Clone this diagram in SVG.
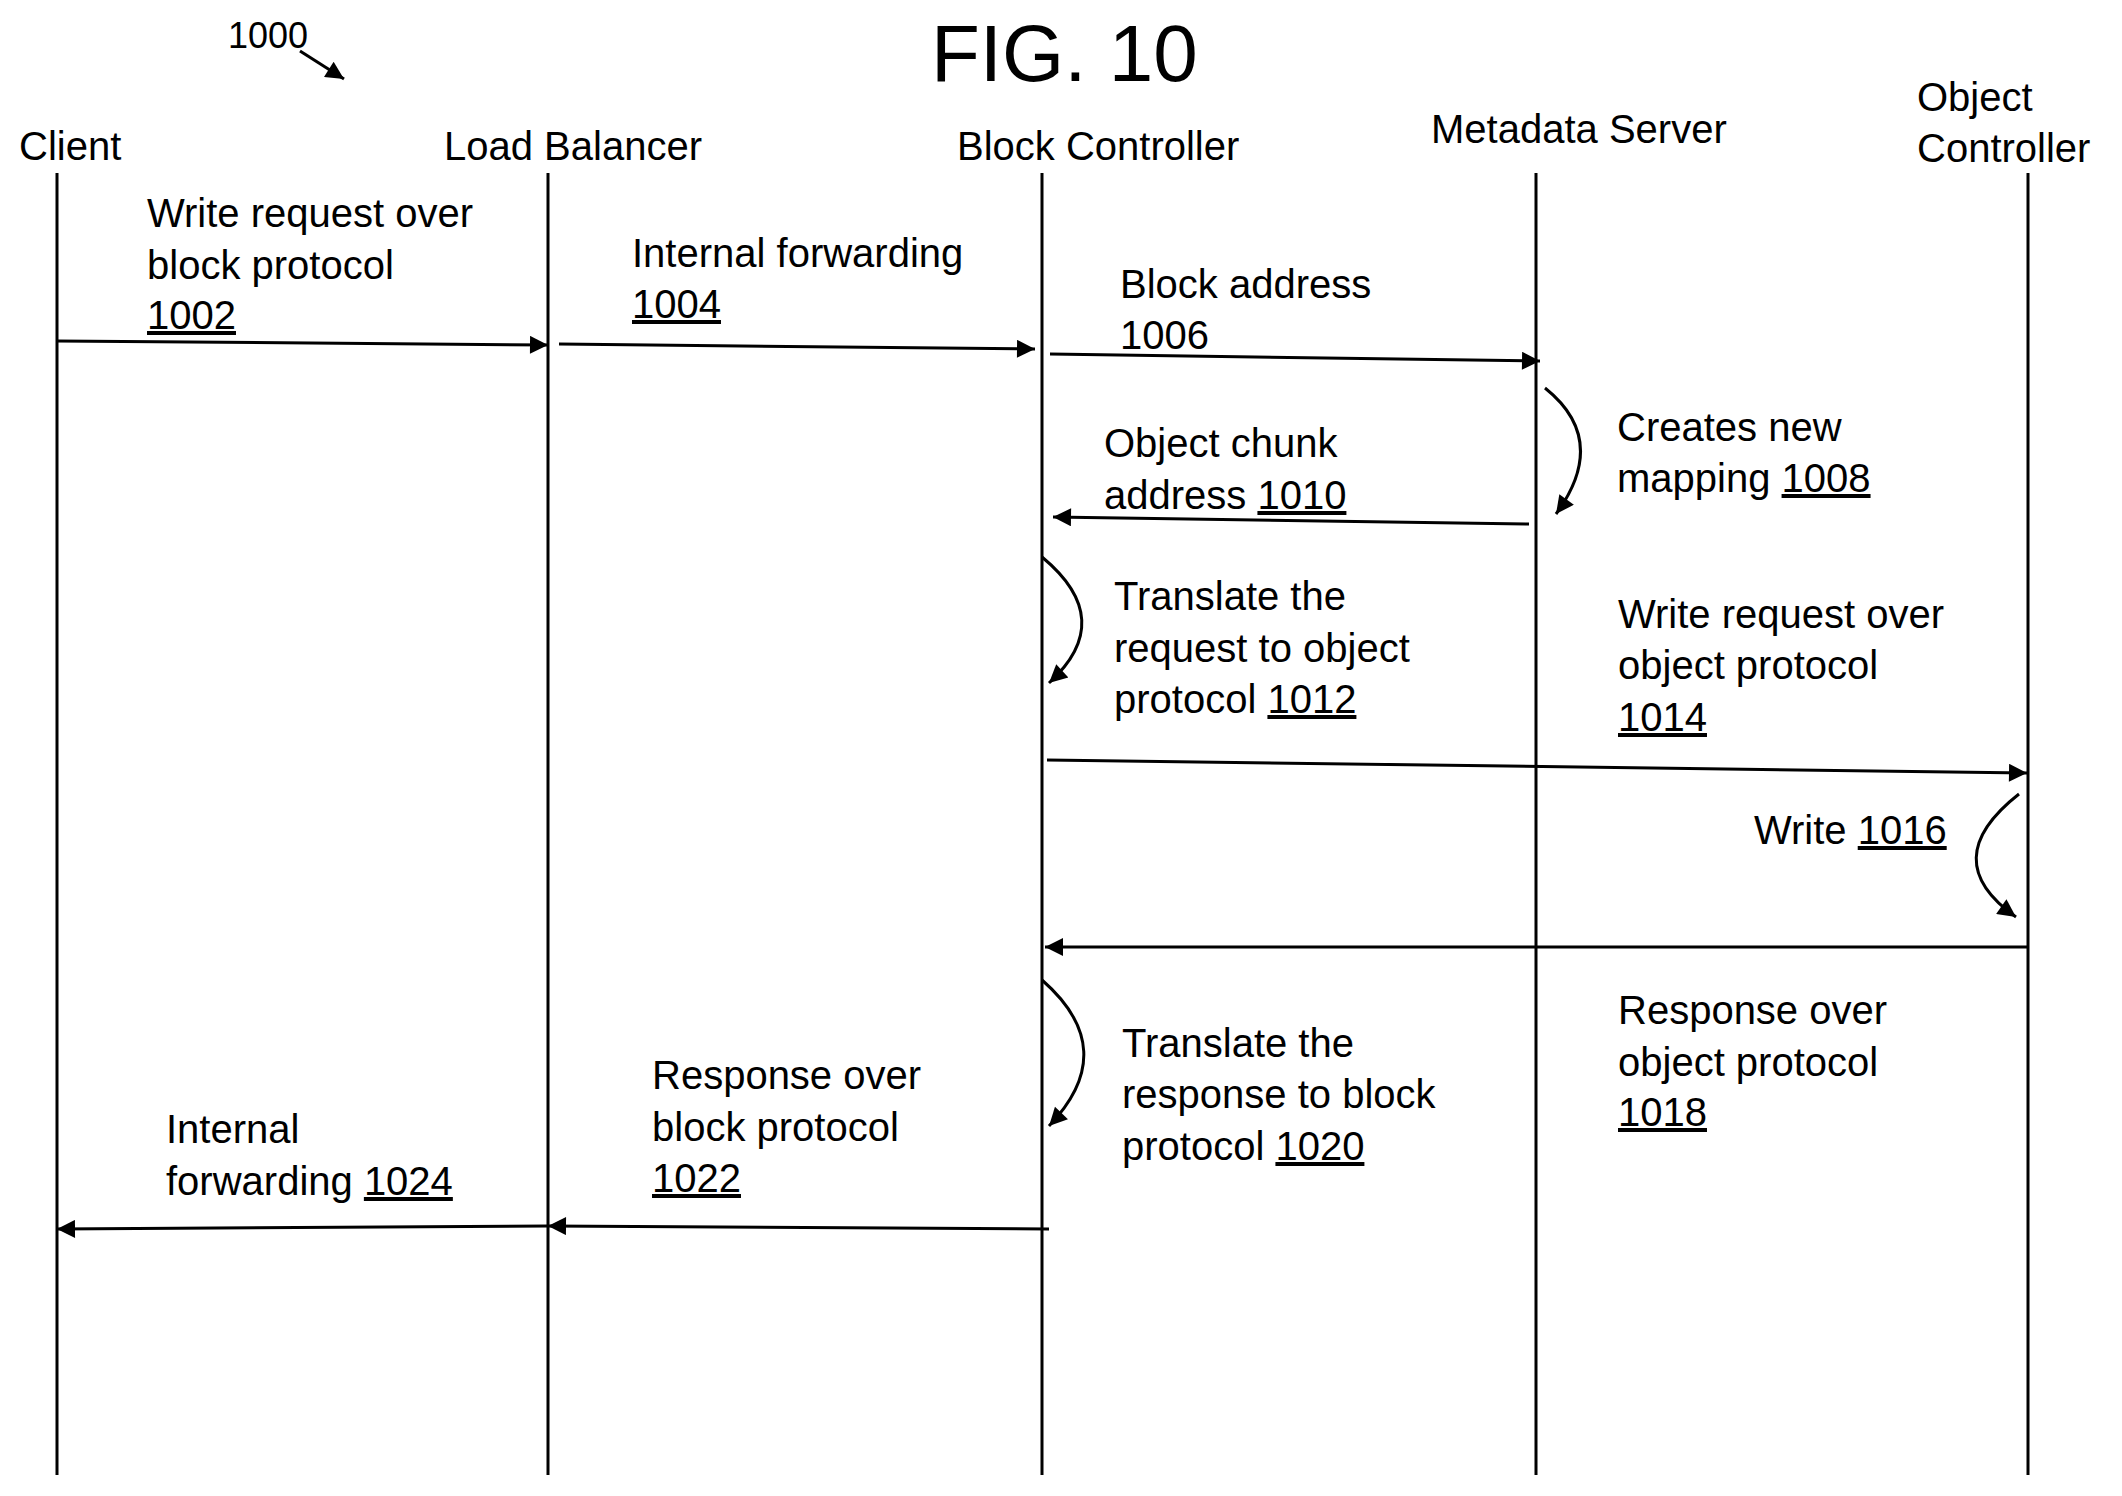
<svg xmlns="http://www.w3.org/2000/svg" width="2122" height="1496" viewBox="0 0 2122 1496">
<style>
text{font-family:"Liberation Sans",Arial,sans-serif;font-size:40px;fill:#000}
.u{text-decoration:underline}
.life{stroke:#000;stroke-width:3;fill:none}
.msg{stroke:#000;stroke-width:3;fill:none;marker-end:url(#ah)}
</style>
<defs>
<marker id="ah" viewBox="0 0 10 10" refX="10" refY="5" markerWidth="7" markerHeight="6" markerUnits="strokeWidth" orient="auto"><path d="M0,0L10,5L0,10z" fill="#000"/></marker>
</defs>
<rect width="2122" height="1496" fill="#fff"/>
<g id="title">
<text x="931" y="81" style="font-size:80px">FIG. 10</text>
<text x="228" y="48" style="font-size:36px">1000</text>
<path class="msg" d="M300,51L344,79"/>
</g>
<g id="client"><text x="19" y="160">Client</text><path class="life" d="M57,173V1475"/></g>
<g id="loadbalancer"><text x="444" y="160">Load Balancer</text><path class="life" d="M548,173V1475"/></g>
<g id="blockcontroller"><text x="957" y="160">Block Controller</text><path class="life" d="M1042,173V1475"/></g>
<g id="metadataserver"><text x="1431" y="143">Metadata Server</text><path class="life" d="M1536,173V1475"/></g>
<g id="objectcontroller"><text x="1917" y="111">Object</text><text x="1917" y="162">Controller</text><path class="life" d="M2028,173V1475"/></g>
<g id="connectors">
<path class="msg" d="M57,341L548,345"/>
<path class="msg" d="M559,344L1035,349"/>
<path class="msg" d="M1050,354L1540,361"/>
<path class="msg" d="M1529,524L1053,517"/>
<path class="msg" d="M1047,760L2027,773"/>
<path class="msg" d="M2027,947L1045,947"/>
<path class="msg" d="M1049,1229L548,1226"/>
<path class="msg" d="M548,1226L57,1229"/>
<path class="msg" d="M1545,388Q1610,440 1556,514"/>
<path class="msg" d="M1042,557Q1118,620 1049,683"/>
<path class="msg" d="M2019,794Q1935,860 2016,917"/>
<path class="msg" d="M1042,980Q1122,1050 1049,1126"/>
</g>
<g id="labels">
<text x="147" y="227">Write request over</text><text x="147" y="279">block protocol</text><text x="147" y="329" class="u">1002</text>
<text x="632" y="267">Internal forwarding</text><text x="632" y="318" class="u">1004</text>
<text x="1120" y="298">Block address</text><text x="1120" y="349">1006</text>
<text x="1617" y="441">Creates new</text><text x="1617" y="492">mapping <tspan class="u">1008</tspan></text>
<text x="1104" y="457">Object chunk</text><text x="1104" y="509">address <tspan class="u">1010</tspan></text>
<text x="1114" y="610">Translate the</text><text x="1114" y="662">request to object</text><text x="1114" y="713">protocol <tspan class="u">1012</tspan></text>
<text x="1618" y="628">Write request over</text><text x="1618" y="679">object protocol</text><text x="1618" y="731" class="u">1014</text>
<text x="1754" y="844">Write <tspan class="u">1016</tspan></text>
<text x="1618" y="1024">Response over</text><text x="1618" y="1076">object protocol</text><text x="1618" y="1126" class="u">1018</text>
<text x="1122" y="1057">Translate the</text><text x="1122" y="1108">response to block</text><text x="1122" y="1160">protocol <tspan class="u">1020</tspan></text>
<text x="652" y="1089">Response over</text><text x="652" y="1141">block protocol</text><text x="652" y="1192" class="u">1022</text>
<text x="166" y="1143">Internal</text><text x="166" y="1195">forwarding <tspan class="u">1024</tspan></text>
</g>
</svg>
